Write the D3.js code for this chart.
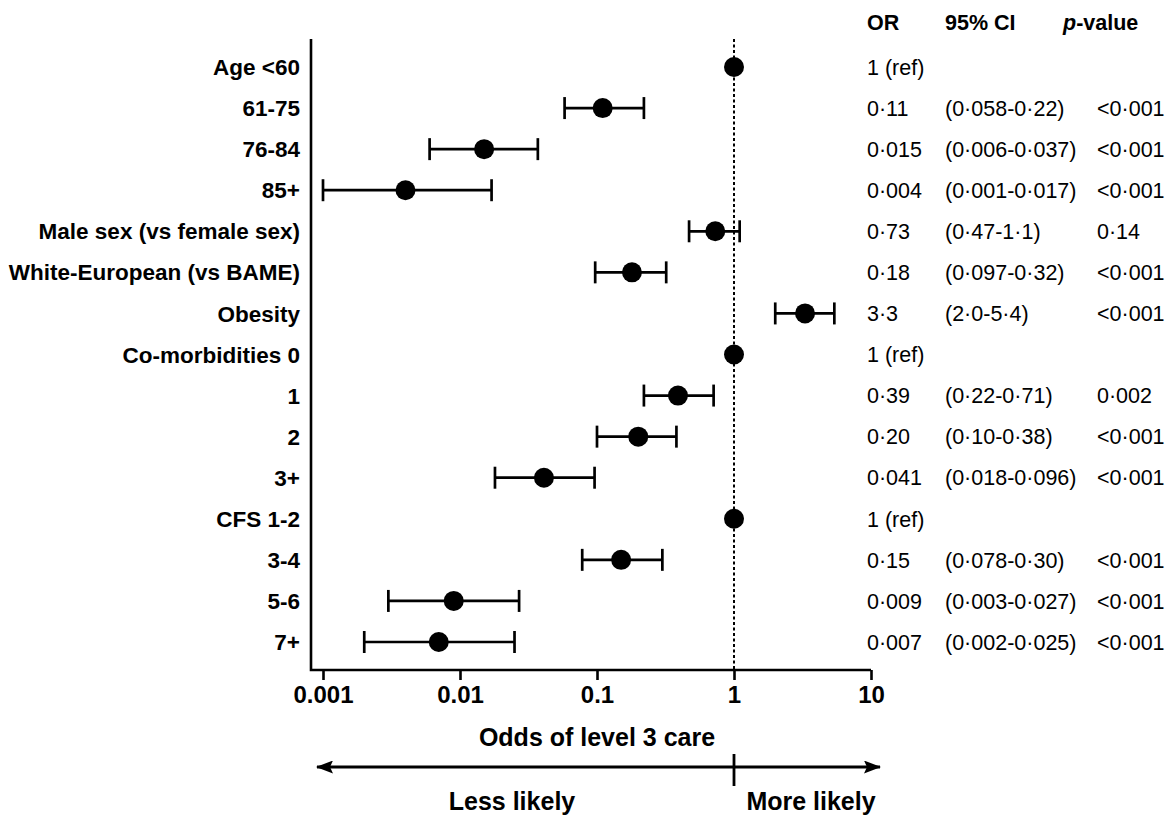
<!DOCTYPE html>
<html>
<head>
<meta charset="utf-8">
<script src="https://cdn.jsdelivr.net/npm/d3@7"></script>
<style>
  html, body { margin: 0; padding: 0; background: #fff; }
  svg { display: block; }
  text { font-family: "Liberation Sans", Arial, Helvetica, sans-serif; fill: #000; }
</style>
</head>
<body>
<svg id="chart" width="1173" height="816"></svg>
<script>
// Odds of level 3 care: odds ratios with 95% confidence intervals
const rowLabels = [
  "Age <60", "61-75", "76-84", "85+",
  "Male sex (vs female sex)", "White-European (vs BAME)", "Obesity",
  "Co-morbidities 0", "1", "2", "3+",
  "CFS 1-2", "3-4", "5-6", "7+"
];
const orValue = [1, 0.11, 0.015, 0.004, 0.73, 0.18, 3.3, 1, 0.39, 0.20, 0.041, 1, 0.15, 0.009, 0.007];
const ciLower = [null, 0.058, 0.006, 0.001, 0.47, 0.097, 2.0, null, 0.22, 0.10, 0.018, null, 0.078, 0.003, 0.002];
const ciUpper = [null, 0.22, 0.037, 0.017, 1.1, 0.32, 5.4, null, 0.71, 0.38, 0.096, null, 0.30, 0.027, 0.025];
const orLabel = ["1 (ref)", "0·11", "0·015", "0·004", "0·73", "0·18", "3·3", "1 (ref)", "0·39", "0·20", "0·041", "1 (ref)", "0·15", "0·009", "0·007"];
const ciLabel = ["", "(0·058-0·22)", "(0·006-0·037)", "(0·001-0·017)", "(0·47-1·1)", "(0·097-0·32)", "(2·0-5·4)",
                 "", "(0·22-0·71)", "(0·10-0·38)", "(0·018-0·096)", "", "(0·078-0·30)", "(0·003-0·027)", "(0·002-0·025)"];
const pLabel = ["", "<0·001", "<0·001", "<0·001", "0·14", "<0·001", "<0·001",
                "", "0·002", "<0·001", "<0·001", "", "<0·001", "<0·001", "<0·001"];
const xTicks = [0.001, 0.01, 0.1, 1, 10];

const rows = rowLabels.map((label, i) => ({
  i, label, or: orValue[i], lo: ciLower[i], hi: ciUpper[i],
  orText: orLabel[i], ciText: ciLabel[i], pText: pLabel[i]
}));

const svg = d3.select("#chart");

const x = d3.scaleLog().domain([0.001, 10]).range([323, 871]);
const y = d3.scalePoint().domain(rows.map(d => d.i)).range([67, 642]);

const axisY = 670;   // baseline of the x axis
const plotTop = 39;
const axisLeft = 311;

// L-shaped frame: left spine and bottom axis line
svg.append("path")
  .attr("d", `M${axisLeft},${plotTop}V${axisY}H${x(10)}`)
  .attr("fill", "none").attr("stroke", "#000").attr("stroke-width", 2.6);

// bottom axis ticks and labels
const xAxis = d3.axisBottom(x)
  .tickValues(xTicks)
  .tickFormat(d3.format("~g"))
  .tickSize(10)
  .tickSizeOuter(0)
  .tickPadding(6);

const gx = svg.append("g").attr("transform", `translate(0,${axisY})`).call(xAxis);
gx.select(".domain").remove();
gx.selectAll(".tick line").attr("stroke", "#000").attr("stroke-width", 2.6);
gx.selectAll(".tick text")
  .attr("font-size", 24).attr("font-weight", "bold")
  .attr("font-family", "'Liberation Sans', Arial, sans-serif")
  .attr("fill", "#000");

// reference line at OR = 1
svg.append("line")
  .attr("x1", x(1)).attr("x2", x(1))
  .attr("y1", plotTop).attr("y2", axisY)
  .attr("stroke", "#000").attr("stroke-width", 2)
  .attr("stroke-dasharray", "3,2.5");

// confidence intervals
const ci = svg.append("g").attr("stroke", "#000").attr("stroke-width", 2.7).attr("fill", "none");
const withCI = rows.filter(d => d.lo != null);
ci.selectAll("line.bar").data(withCI).join("line")
  .attr("class", "bar")
  .attr("x1", d => x(d.lo)).attr("x2", d => x(d.hi))
  .attr("y1", d => y(d.i)).attr("y2", d => y(d.i));
ci.selectAll("line.capL").data(withCI).join("line")
  .attr("class", "capL")
  .attr("x1", d => x(d.lo)).attr("x2", d => x(d.lo))
  .attr("y1", d => y(d.i) - 11).attr("y2", d => y(d.i) + 11);
ci.selectAll("line.capR").data(withCI).join("line")
  .attr("class", "capR")
  .attr("x1", d => x(d.hi)).attr("x2", d => x(d.hi))
  .attr("y1", d => y(d.i) - 11).attr("y2", d => y(d.i) + 11);

// point estimates
svg.append("g").selectAll("circle").data(rows).join("circle")
  .attr("cx", d => x(d.or)).attr("cy", d => y(d.i)).attr("r", 10)
  .attr("fill", "#000");

// row labels
svg.append("g").selectAll("text").data(rows).join("text")
  .attr("x", 300).attr("y", d => y(d.i))
  .attr("dy", "0.36em")
  .attr("text-anchor", "end")
  .attr("font-size", 22.5).attr("font-weight", "bold")
  .text(d => d.label);

// table columns
const colOR = 867, colCI = 945, colP = 1097;
const header = svg.append("g").attr("font-size", 21.5).attr("font-weight", "bold");
header.append("text").attr("x", colOR).attr("y", 30).text("OR");
header.append("text").attr("x", colCI).attr("y", 30).text("95% CI");
const ph = header.append("text").attr("x", 1063).attr("y", 30);
ph.append("tspan").attr("font-style", "italic").text("p");
ph.append("tspan").text("-value");

const table = svg.append("g").attr("font-size", 21.5);
table.selectAll("text.or").data(rows).join("text")
  .attr("class", "or").attr("x", colOR).attr("y", d => y(d.i)).attr("dy", "0.36em")
  .text(d => d.orText);
table.selectAll("text.ci").data(rows.filter(d => d.ciText)).join("text")
  .attr("class", "ci").attr("x", colCI).attr("y", d => y(d.i)).attr("dy", "0.36em")
  .text(d => d.ciText);
table.selectAll("text.p").data(rows.filter(d => d.pText)).join("text")
  .attr("class", "p").attr("x", colP).attr("y", d => y(d.i)).attr("dy", "0.36em")
  .text(d => d.pText);

// axis title
svg.append("text")
  .attr("x", (x.range()[0] + x.range()[1]) / 2).attr("y", 746)
  .attr("text-anchor", "middle")
  .attr("font-size", 25).attr("font-weight", "bold")
  .text("Odds of level 3 care");

// direction arrow
const arrowY = 767;
const defs = svg.append("defs");
defs.append("marker")
  .attr("id", "head").attr("viewBox", "0 0 17 13")
  .attr("refX", 16).attr("refY", 6.5)
  .attr("markerWidth", 17).attr("markerHeight", 13)
  .attr("markerUnits", "userSpaceOnUse")
  .attr("orient", "auto-start-reverse")
  .append("path").attr("d", "M0,0L17,6.5L0,13L3,6.5Z").attr("fill", "#000");

svg.append("line")
  .attr("x1", 317).attr("x2", 880)
  .attr("y1", arrowY).attr("y2", arrowY)
  .attr("stroke", "#000").attr("stroke-width", 3)
  .attr("marker-start", "url(#head)").attr("marker-end", "url(#head)");
svg.append("line")
  .attr("x1", x(1)).attr("x2", x(1))
  .attr("y1", arrowY - 13).attr("y2", arrowY + 19)
  .attr("stroke", "#000").attr("stroke-width", 2.8);

svg.append("text")
  .attr("x", 512).attr("y", 810).attr("text-anchor", "middle")
  .attr("font-size", 25).attr("font-weight", "bold")
  .text("Less likely");
svg.append("text")
  .attr("x", 811).attr("y", 810).attr("text-anchor", "middle")
  .attr("font-size", 25).attr("font-weight", "bold")
  .text("More likely");
</script>
</body>
</html>
